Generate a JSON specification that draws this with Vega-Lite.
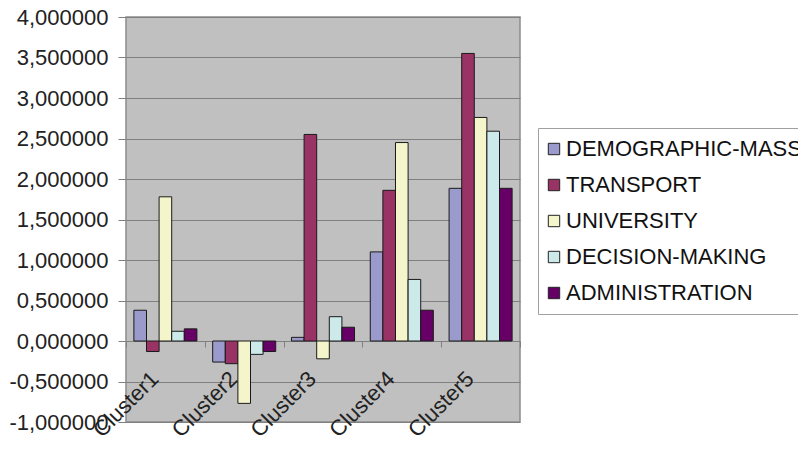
{
  "$schema": "https://vega.github.io/schema/vega-lite/v6.json",
  "width": 394,
  "height": 405,
  "autosize": {"type": "none"},
  "padding": {"left": 126, "top": 17, "right": 278, "bottom": 35},
  "background": "white",
  "config": {
    "font": "Liberation Sans",
    "view": {"fill": "#c0c0c0", "stroke": "#8c8c8c", "strokeWidth": 1.5}
  },
  "data": {
    "values": [
      {"cluster": "Cluster1", "series": "DEMOGRAPHIC-MASS", "value": 0.38},
      {"cluster": "Cluster1", "series": "TRANSPORT", "value": -0.13},
      {"cluster": "Cluster1", "series": "UNIVERSITY", "value": 1.78},
      {"cluster": "Cluster1", "series": "DECISION-MAKING", "value": 0.12},
      {"cluster": "Cluster1", "series": "ADMINISTRATION", "value": 0.15},
      {"cluster": "Cluster2", "series": "DEMOGRAPHIC-MASS", "value": -0.26},
      {"cluster": "Cluster2", "series": "TRANSPORT", "value": -0.28},
      {"cluster": "Cluster2", "series": "UNIVERSITY", "value": -0.77},
      {"cluster": "Cluster2", "series": "DECISION-MAKING", "value": -0.165},
      {"cluster": "Cluster2", "series": "ADMINISTRATION", "value": -0.13},
      {"cluster": "Cluster3", "series": "DEMOGRAPHIC-MASS", "value": 0.045},
      {"cluster": "Cluster3", "series": "TRANSPORT", "value": 2.55},
      {"cluster": "Cluster3", "series": "UNIVERSITY", "value": -0.22},
      {"cluster": "Cluster3", "series": "DECISION-MAKING", "value": 0.3},
      {"cluster": "Cluster3", "series": "ADMINISTRATION", "value": 0.17},
      {"cluster": "Cluster4", "series": "DEMOGRAPHIC-MASS", "value": 1.1},
      {"cluster": "Cluster4", "series": "TRANSPORT", "value": 1.86},
      {"cluster": "Cluster4", "series": "UNIVERSITY", "value": 2.45},
      {"cluster": "Cluster4", "series": "DECISION-MAKING", "value": 0.76},
      {"cluster": "Cluster4", "series": "ADMINISTRATION", "value": 0.38},
      {"cluster": "Cluster5", "series": "DEMOGRAPHIC-MASS", "value": 1.885},
      {"cluster": "Cluster5", "series": "TRANSPORT", "value": 3.55},
      {"cluster": "Cluster5", "series": "UNIVERSITY", "value": 2.76},
      {"cluster": "Cluster5", "series": "DECISION-MAKING", "value": 2.59},
      {"cluster": "Cluster5", "series": "ADMINISTRATION", "value": 1.885}
    ]
  },
  "mark": {"type": "bar", "stroke": "#1a1a1a", "strokeWidth": 1},
  "encoding": {
    "x": {
      "field": "cluster",
      "type": "nominal",
      "sort": null,
      "scale": {"paddingInner": 0, "paddingOuter": 0},
      "axis": {
        "title": null,
        "offset": -81,
        "domain": false,
        "tickBand": "extent",
        "tickSize": 6,
        "tickColor": "#808080",
        "labelAngle": -45,
        "labelAlign": "right",
        "labelBaseline": "middle",
        "labelPadding": 28,
        "labelOffset": -11,
        "labelFontSize": 22,
        "labelColor": "#222222",
        "grid": false
      }
    },
    "xOffset": {
      "field": "series",
      "type": "nominal",
      "sort": null,
      "scale": {"paddingInner": 0, "paddingOuter": 0.625}
    },
    "y": {
      "field": "value",
      "type": "quantitative",
      "scale": {"domain": [-1, 4], "nice": false, "zero": false},
      "axis": {
        "title": null,
        "values": [-1, -0.5, 0, 0.5, 1, 1.5, 2, 2.5, 3, 3.5, 4],
        "labelExpr": "replace(replace(format(datum.value, '.6f'), '.', ','), '\u2212', '-')",
        "labelFontSize": 22,
        "labelColor": "#222222",
        "labelPadding": 10,
        "tickSize": 8,
        "tickColor": "#808080",
        "domain": false,
        "grid": true,
        "gridColor": "#808080",
        "gridWidth": 1.2
      }
    },
    "color": {
      "field": "series",
      "type": "nominal",
      "sort": null,
      "scale": {
        "domain": ["DEMOGRAPHIC-MASS", "TRANSPORT", "UNIVERSITY", "DECISION-MAKING", "ADMINISTRATION"],
        "range": ["#9a9acc", "#993366", "#f5f5cc", "#cceaea", "#660066"]
      },
      "legend": {
        "title": null,
        "orient": "none",
        "legendX": 412,
        "legendY": 111,
        "symbolType": "square",
        "symbolSize": 130,
        "symbolOffset": -5,
        "symbolStrokeColor": "#222222",
        "symbolStrokeWidth": 1,
        "labelFontSize": 22,
        "labelColor": "#111111",
        "labelOffset": 1,
        "labelLimit": 0,
        "rowPadding": 14,
        "padding": 10,
        "strokeColor": "#a0a0a0",
        "fillColor": "white"
      }
    }
  }
}
